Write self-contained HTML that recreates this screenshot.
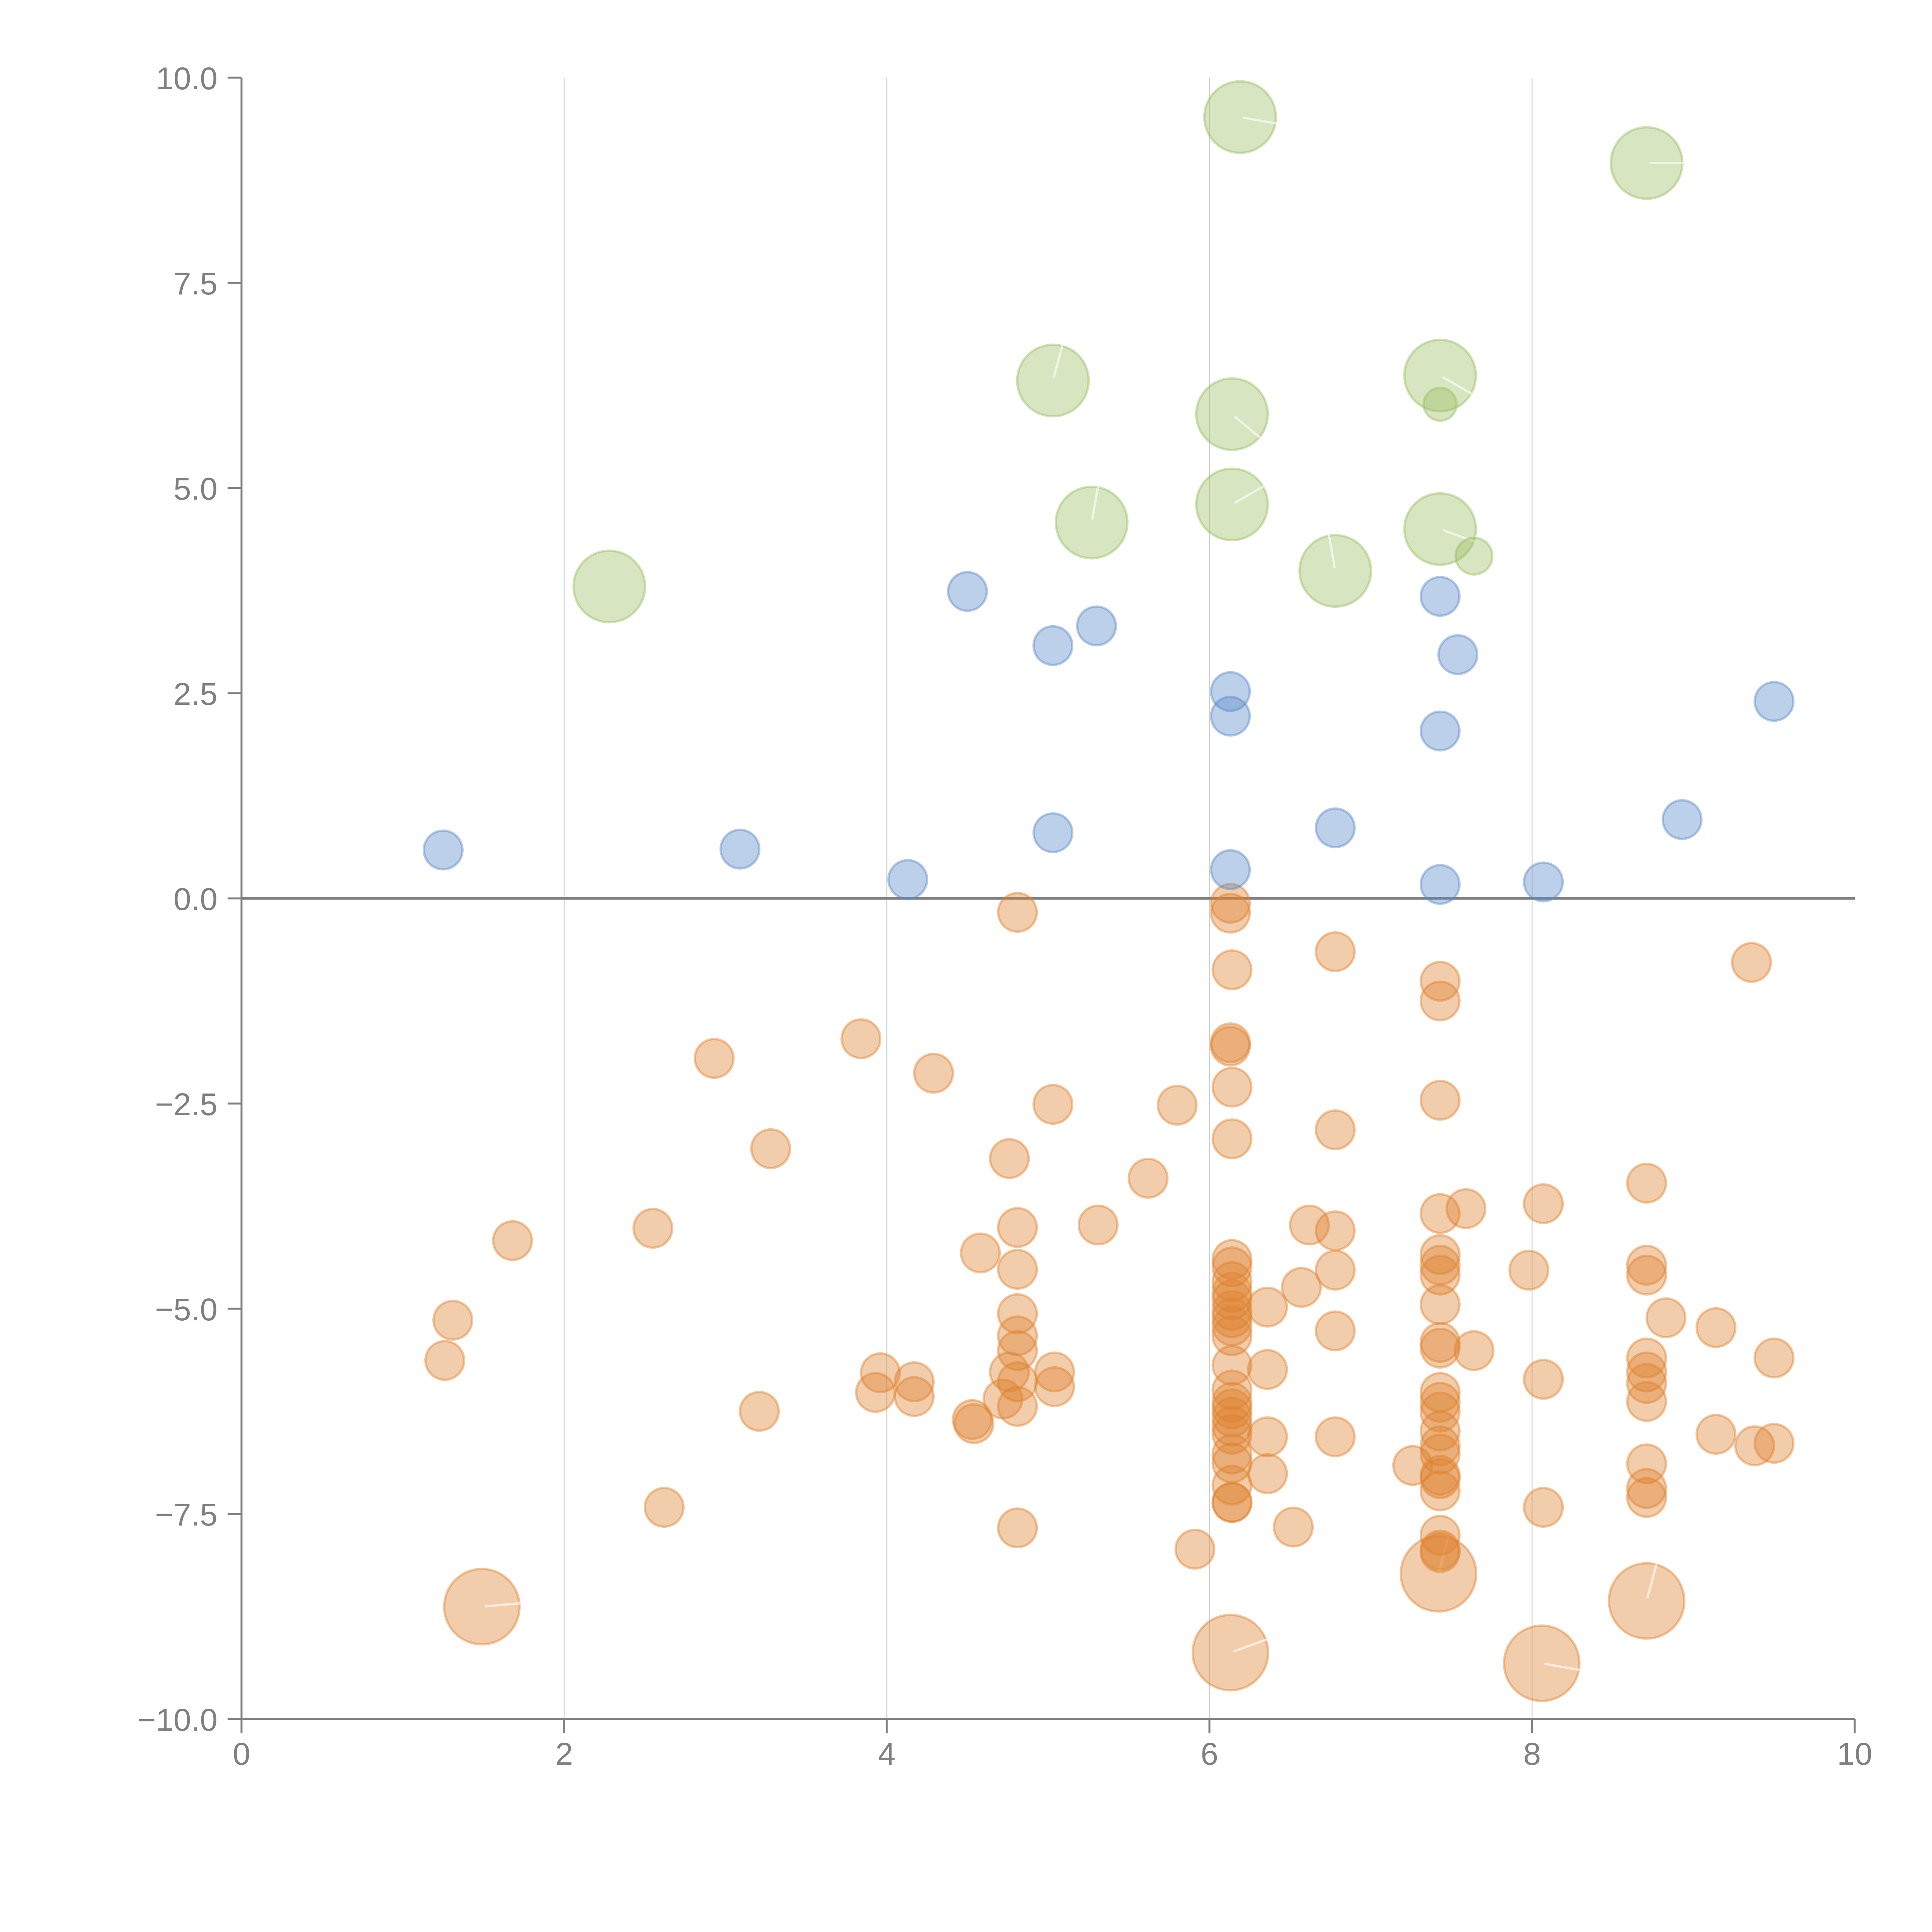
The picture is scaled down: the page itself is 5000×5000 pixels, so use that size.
<!DOCTYPE html>
<html><head><meta charset="utf-8"><title>Bubble scatter chart</title>
<style>
html,body{margin:0;padding:0;background:#fff;}
svg{display:block;}
text{font-family:"Liberation Sans",Arial,sans-serif;fill:#808080;}
</style></head>
<body>
<svg id="chart" width="5000" height="5000" viewBox="0 0 5000 5000" xmlns="http://www.w3.org/2000/svg">
<g id="grid"></g>
<g id="zero"></g>
<g id="marks"></g>
<g id="axes"></g>
</svg>
<script>
const xTicks = [0, 2, 4, 6, 8, 10];
const xTickLabels = ["0", "2", "4", "6", "8", "10"];
const yTicks = [-10, -7.5, -5, -2.5, 0, 2.5, 5, 7.5, 10];
const yTickLabels = ["\u221210.0", "\u22127.5", "\u22125.0", "\u22122.5", "0.0", "2.5", "5.0", "7.5", "10.0"];

const blueX = [1.25,3.09,4.13,4.50,5.03,5.30,5.03,6.13,6.13,6.13,6.78,7.43,7.54,7.43,7.43,8.07,8.93,9.50];
const blueY = [0.59,0.60,0.23,3.74,3.08,3.32,0.80,2.52,2.22,0.35,0.86,3.68,2.97,2.04,0.17,0.20,0.96,2.40];
const blueS = [1,1,1,1,1,1,1,1,1,1,1,1,1,1,1,1,1,1];

const greenX = [6.19,8.71,5.03,6.14,7.43,7.43,6.14,5.27,7.43,6.78,7.64,2.28];
const greenY = [9.52,8.96,6.31,5.90,6.37,6.02,4.80,4.58,4.50,3.99,4.17,3.80];
const greenS = [1.85,1.85,1.85,1.85,1.85,0.85,1.85,1.85,1.85,1.85,0.95,1.85];
const greenLeader = [10,0,-75,40,30,null,-30,-80,20,-100,null,null];

const orangeX = [1.49,7.42,6.13,8.06,8.71,
4.81,6.13,6.13,6.78,6.14,9.36,7.43,7.43,3.84,2.93,6.13,6.13,4.29,6.14,5.03,5.80,7.43,6.78,6.14,3.28,4.76,5.62,8.71,8.07,7.59,7.43,6.62,5.31,4.81,2.55,6.78,1.68,4.58,7.43,6.14,7.43,6.14,8.71,6.78,4.81,7.98,7.43,8.71,6.14,6.57,6.14,6.14,6.36,7.43,4.81,6.14,6.14,1.31,8.83,6.14,9.14,6.78,4.81,6.14,7.43,4.81,7.64,7.43,9.50,1.26,8.71,6.14,6.36,3.96,4.76,5.04,8.71,4.17,4.81,8.07,5.04,6.14,7.43,3.93,4.17,8.71,4.72,6.14,7.43,8.71,4.81,6.14,3.21,7.43,6.14,4.53,4.54,6.14,7.43,6.14,9.14,6.36,6.78,9.38,9.50,7.43,6.14,7.43,6.14,8.71,7.26,7.43,6.36,7.43,6.14,7.43,8.71,8.71,6.14,6.14,2.62,8.07,4.81,6.52,7.43,7.43,5.91,7.43];
const orangeY = [-8.63,-8.23,-9.19,-9.32,-8.56,
-0.17,-0.06,-0.18,-0.65,-0.87,-0.78,-1.01,-1.25,-1.71,-1.95,-1.76,-1.80,-2.13,-2.30,-2.51,-2.52,-2.46,-2.82,-2.93,-3.05,-3.17,-3.41,-3.47,-3.72,-3.78,-3.84,-3.98,-3.98,-4.01,-4.02,-4.05,-4.17,-4.32,-4.34,-4.40,-4.47,-4.49,-4.47,-4.53,-4.52,-4.53,-4.59,-4.59,-4.67,-4.74,-4.80,-4.89,-4.98,-4.95,-5.06,-5.02,-5.11,-5.14,-5.11,-5.21,-5.23,-5.27,-5.33,-5.33,-5.41,-5.51,-5.51,-5.48,-5.60,-5.63,-5.60,-5.69,-5.74,-5.78,-5.77,-5.77,-5.77,-5.89,-5.89,-5.86,-5.95,-5.99,-6.02,-6.02,-6.07,-5.91,-6.10,-6.14,-6.14,-6.13,-6.19,-6.22,-6.25,-6.26,-6.32,-6.35,-6.40,-6.43,-6.49,-6.53,-6.53,-6.56,-6.56,-6.67,-6.64,-6.67,-6.77,-6.77,-6.88,-6.89,-6.91,-7.03,-7.01,-7.07,-7.15,-7.22,-7.19,-7.30,-7.36,-7.36,-7.42,-7.42,-7.67,-7.66,-7.76,-7.94,-7.93,-7.97];
const orangeS = [1.95,1.95,1.95,1.95,1.95];
const orangeLeader = [-5,-75,-20,10,-75];

const X0 = 625, X1 = 4800, Y0 = 4449, Y1 = 201;
function xScale(v){ return X0 + (v - 0) / 10 * (X1 - X0); }
function yScale(v){ return Y0 - (v + 10) / 20 * (Y0 - Y1); }
function rScale(s){ return 50 * s; }

const NS = "http://www.w3.org/2000/svg";
function mk(tag, attrs, parent){
  const e = document.createElementNS(NS, tag);
  for (const k in attrs) e.setAttribute(k, attrs[k]);
  parent.appendChild(e);
  return e;
}

const grid = document.getElementById('grid');
[2,4,6,8].forEach(function(v){
  const l = mk('line', {x1: xScale(v), x2: xScale(v), y1: Y1, y2: Y0, stroke: '#cfcfcf', 'stroke-width': 2.5}, grid);
  
  
});

const zero = document.getElementById('zero');
const zl = mk('line', {x1: xScale(0), x2: xScale(10), y1: yScale(0), y2: yScale(0), stroke: '#808080', 'stroke-width': 7}, zero);



const marks = document.getElementById('marks');
function drawSeries(xs, ys, sizes, color, name, leaders){
  const g = mk('g', {}, marks);
  
  
  for (let i = 0; i < xs.length; i++){
    const s = sizes[i] !== undefined ? sizes[i] : 1;
    const cx = xScale(xs[i]), cy = yScale(ys[i]), r = rScale(s);
    const c = mk('circle', {cx: cx, cy: cy, r: r,
      fill: color, 'fill-opacity': 0.4, stroke: color, 'stroke-opacity': 0.45, 'stroke-width': 6}, g);
    
    
    if (leaders && leaders[i] !== null && leaders[i] !== undefined){
      const a = leaders[i] * Math.PI / 180;
      const ln = mk('line', {x1: cx + 10*Math.cos(a), y1: cy + 10*Math.sin(a), x2: cx + r*Math.cos(a), y2: cy + r*Math.sin(a),
        stroke: '#ffffff', 'stroke-opacity': 0.6, 'stroke-width': 6, 'stroke-linecap': 'round'}, g);
      
      
    }
  }
}
drawSeries(orangeX, orangeY, orangeS, '#df822f', 'orange', orangeLeader);
drawSeries(blueX, blueY, blueS, '#5b8ac9', 'blue', null);
drawSeries(greenX, greenY, greenS, '#9abd62', 'green', greenLeader);

const axes = document.getElementById('axes');
const ya = mk('line', {x1: X0, x2: X0, y1: Y1, y2: Y0, stroke: '#808080', 'stroke-width': 5}, axes);


const xa = mk('line', {x1: X0, x2: X1, y1: Y0, y2: Y0, stroke: '#808080', 'stroke-width': 5}, axes);



yTicks.forEach(function(v, i){
  const t = mk('line', {x1: X0 - 36, x2: X0, y1: yScale(v), y2: yScale(v), stroke: '#808080', 'stroke-width': 5}, axes);
  
  
  const tx = mk('text', {x: X0 - 62, y: yScale(v) + 30, 'text-anchor': 'end', 'font-size': 82}, axes);
  tx.textContent = yTickLabels[i];
  
  
});
xTicks.forEach(function(v, i){
  const t = mk('line', {x1: xScale(v), x2: xScale(v), y1: Y0, y2: Y0 + 36, stroke: '#808080', 'stroke-width': 5}, axes);
  
  
  const tx = mk('text', {x: xScale(v), y: Y0 + 118, 'text-anchor': 'middle', 'font-size': 82}, axes);
  tx.textContent = xTickLabels[i];
  
  
});
</script>
</body></html>
